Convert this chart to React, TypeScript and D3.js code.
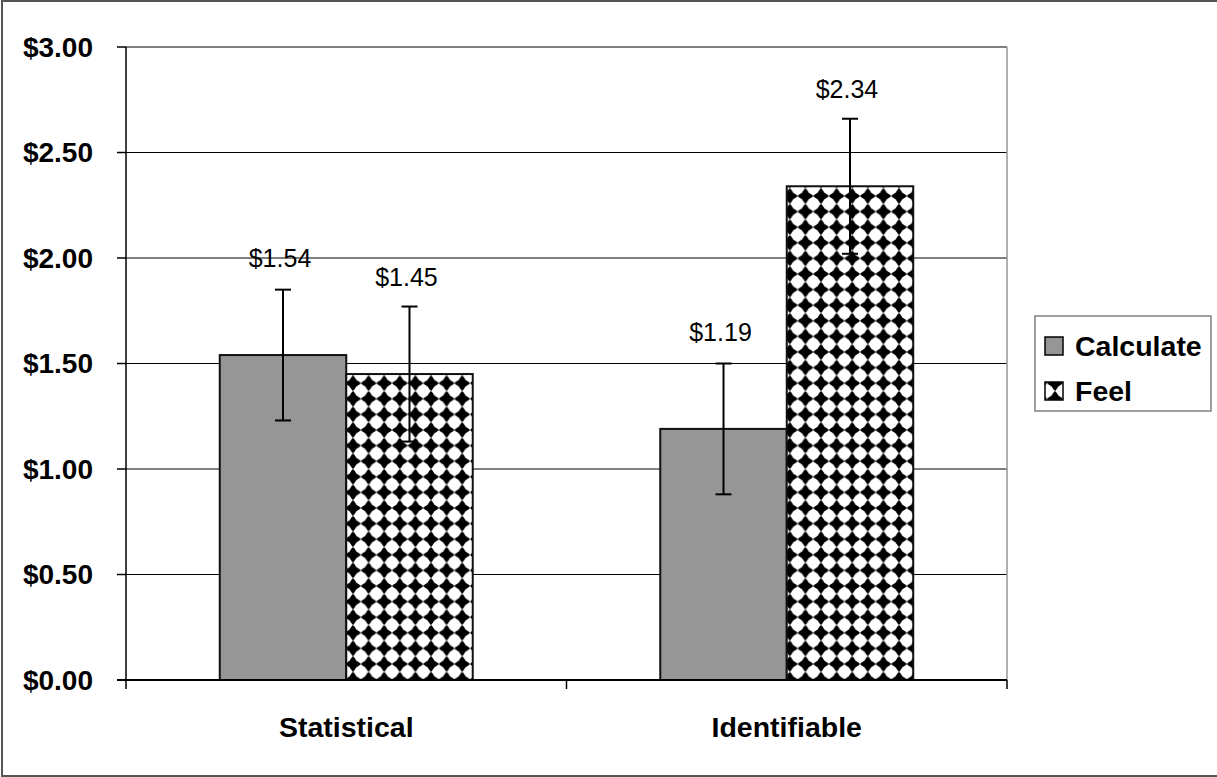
import React from "react";
import * as d3 from "d3";

const categories = ["Statistical", "Identifiable"];
const seriesNames = ["Calculate", "Feel"];
const calculateValues = [1.54, 1.19];
const feelValues = [1.45, 2.34];
const calculateErrors = [0.31, 0.31];
const feelErrors = [0.32, 0.32];
const yTicks = [0, 0.5, 1, 1.5, 2, 2.5, 3];

const W = 1217;
const H = 777;
const FONT = "'Liberation Sans', Arial, Helvetica, sans-serif";

export default function App() {
  const plot = { left: 126, right: 1007, top: 47, bottom: 680 };
  const y = d3.scaleLinear().domain([0, 3]).range([plot.bottom, plot.top]);
  const x0 = d3
    .scaleBand<string>()
    .domain(categories)
    .range([plot.left, plot.right])
    .paddingInner(0.4257)
    .paddingOuter(0.4257 / 2);
  const x1 = d3.scaleBand<string>().domain(seriesNames).range([0, x0.bandwidth()]);
  const fmt = (v: number) => "$" + d3.format(".2f")(v);

  const seriesData = [
    { name: "Calculate", values: calculateValues, errors: calculateErrors },
    { name: "Feel", values: feelValues, errors: feelErrors },
  ];

  const fillFor = (name: string) => (name === "Calculate" ? "#969696" : "url(#diamonds)");
  const s = 15.6;
  const h = s / 2;
  const R = 6.3;
  const diamondPath = `M ${h} 0 L ${s} ${h} L ${h} ${s} L 0 ${h} Z`;

  const xTickPositions = [plot.left, ...categories.slice(1).map((c) => x0(c)! - (x0.step() - x0.bandwidth()) / 2), plot.right];

  return (
    <svg width={W} height={H} style={{ position: "absolute", left: 0, top: 0, background: "#fff" }} fontFamily={FONT}>
      <defs>
        <pattern id="diamonds" patternUnits="userSpaceOnUse" width={s} height={s} x={2} y={1}>
          <rect width={s} height={s} fill="#fff" />
          <path d={diamondPath} fill="#000" />
          {[
            [0, 0],
            [s, 0],
            [0, s],
            [s, s],
          ].map(([cx, cy], i) => (
            <circle key={i} cx={cx} cy={cy} r={R} fill="#fff" />
          ))}
        </pattern>
      </defs>
      <rect x={0} y={0} width={W} height={H} fill="#fff" />
      <rect x={2} y={1} width={W + 10} height={775} fill="none" stroke="#555" strokeWidth={2} />

      {yTicks.slice(1).map((t) => (
        <line key={t} x1={plot.left} x2={plot.right} y1={y(t)} y2={y(t)} stroke="#000" strokeWidth={1} />
      ))}
      <line x1={plot.right} x2={plot.right} y1={plot.top} y2={plot.bottom} stroke="#999" strokeWidth={1.5} />

      {seriesData.map((sd) =>
        categories.map((c, i) => {
          const bx = x0(c)! + x1(sd.name)!;
          const by = y(sd.values[i]);
          return (
            <rect
              key={sd.name + c}
              x={bx}
              y={by}
              width={x1.bandwidth()}
              height={y(0) - by}
              fill={fillFor(sd.name)}
              stroke="#111"
              strokeWidth={2}
            />
          );
        })
      )}

      {seriesData.map((sd) =>
        categories.map((c, i) => {
          const cx = x0(c)! + x1(sd.name)! + x1.bandwidth() / 2;
          const yt = y(sd.values[i] + sd.errors[i]);
          const yb = y(sd.values[i] - sd.errors[i]);
          return (
            <g key={"e" + sd.name + c} stroke="#000" strokeWidth={2}>
              <line x1={cx} x2={cx} y1={yt} y2={yb} />
              <line x1={cx - 8} x2={cx + 8} y1={yt} y2={yt} />
              <line x1={cx - 8} x2={cx + 8} y1={yb} y2={yb} />
            </g>
          );
        })
      )}

      {seriesData.map((sd) =>
        categories.map((c, i) => {
          const cx = x0(c)! + x1(sd.name)! + x1.bandwidth() / 2;
          return (
            <text key={"l" + sd.name + c} x={cx - 3} y={y(sd.values[i]) - 88} textAnchor="middle" fontSize={25} fill="#000">
              {fmt(sd.values[i])}
            </text>
          );
        })
      )}

      <line x1={plot.left} x2={plot.left} y1={plot.top} y2={plot.bottom} stroke="#000" strokeWidth={1.5} />
      <line x1={plot.left - 9} x2={plot.right} y1={plot.bottom} y2={plot.bottom} stroke="#000" strokeWidth={2} />
      {yTicks.map((t) => (
        <g key={"yt" + t}>
          <line x1={plot.left - 9} x2={plot.left} y1={y(t)} y2={y(t)} stroke="#000" strokeWidth={1.5} />
          <text x={93} y={y(t)} dy="0.35em" textAnchor="end" fontSize={28} fontWeight="bold" fill="#000">
            {fmt(t)}
          </text>
        </g>
      ))}
      {xTickPositions.map((xp, i) => (
        <line key={"xt" + i} x1={xp} x2={xp} y1={plot.bottom} y2={plot.bottom + 9} stroke="#000" strokeWidth={1.5} />
      ))}
      {categories.map((c) => (
        <text key={"c" + c} x={x0(c)! + x0.bandwidth() / 2} y={737} textAnchor="middle" fontSize={28.5} fontWeight="bold" fill="#000">
          {c}
        </text>
      ))}

      <rect x={1035} y={316} width={176} height={95} fill="#fff" stroke="#808080" strokeWidth={1.5} />
      {seriesNames.map((n, i) => {
        const cy = 346 + i * 45;
        return (
          <g key={"lg" + n}>
            <rect x={1045} y={cy - 9} width={18} height={18} fill={fillFor(n)} stroke="#000" strokeWidth={1.5} />
            <text x={1075} y={cy} dy="0.36em" fontSize={28.5} fontWeight="bold" fill="#000">
              {n}
            </text>
          </g>
        );
      })}
    </svg>
  );
}
